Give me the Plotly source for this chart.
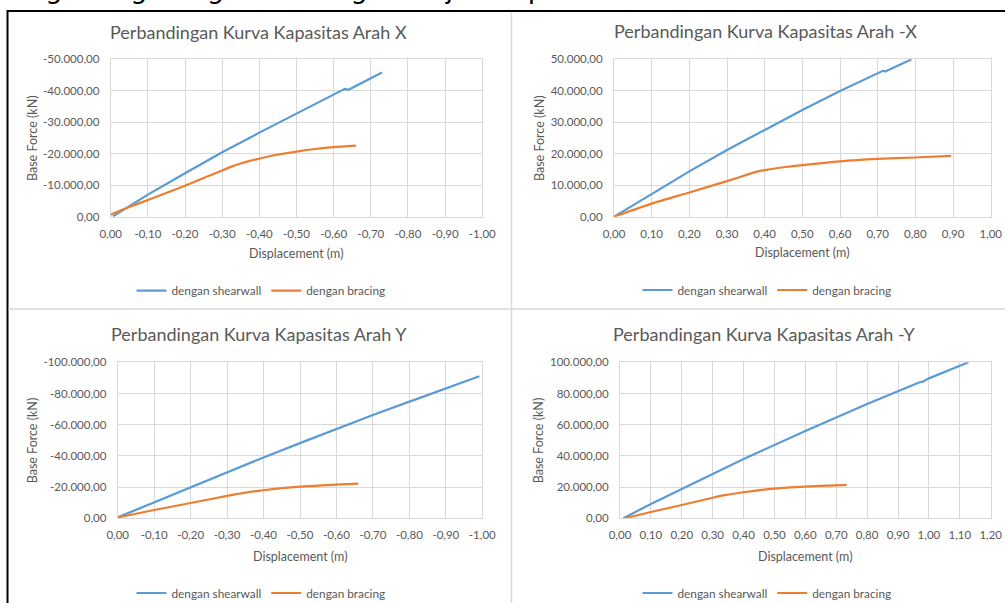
import plotly.graph_objects as go

W, H = 1005, 603

# ---- Arah X (negative displacement / negative base force) ----
x_shear_X = [-0.006, -0.10, -0.20, -0.30, -0.40, -0.50, -0.60, -0.63, -0.64, -0.73]
y_shear_X = [-100, -7000, -13800, -20500, -26700, -32800, -38900, -40600, -40300, -45800]
x_brace_X = [0.0, -0.05, -0.10, -0.20, -0.30, -0.325, -0.35, -0.375, -0.40, -0.45, -0.50, -0.55, -0.60, -0.66]
y_brace_X = [-700, -3100, -5300, -9850, -14700, -15900, -16900, -17750, -18450, -19750, -20700, -21500, -22100, -22550]

# ---- Arah -X ----
x_shear_nX = [0.0, 0.10, 0.20, 0.30, 0.40, 0.50, 0.60, 0.70, 0.715, 0.72, 0.79]
y_shear_nX = [0, 7100, 14400, 21200, 27500, 33900, 39900, 45600, 46400, 46100, 50000]
x_brace_nX = [0.0, 0.10, 0.20, 0.30, 0.36, 0.38, 0.40, 0.45, 0.50, 0.60, 0.70, 0.80, 0.895]
y_brace_nX = [0, 4150, 7700, 11300, 13600, 14300, 14800, 15700, 16400, 17600, 18350, 18800, 19300]

# ---- Arah Y ----
x_shear_Y = [0.0, -0.10, -0.20, -0.30, -0.40, -0.50, -0.60, -0.70, -0.80, -0.81, -0.992]
y_shear_Y = [-600, -10300, -19900, -29600, -39000, -48200, -57300, -66200, -74800, -75600, -91000]
x_brace_Y = [0.0, -0.10, -0.20, -0.30, -0.35, -0.40, -0.45, -0.50, -0.55, -0.60, -0.66]
y_brace_Y = [-500, -5300, -9800, -14400, -16500, -18000, -19300, -20300, -21000, -21600, -22200]

# ---- Arah -Y ----
x_shear_nY = [0.011, 0.10, 0.20, 0.40, 0.60, 0.80, 0.97, 0.98, 1.00, 1.128]
y_shear_nY = [0, 9200, 18800, 38000, 56000, 73300, 87200, 87600, 89700, 100000]
x_brace_nY = [0.016, 0.10, 0.20, 0.30, 0.33, 0.40, 0.50, 0.60, 0.70, 0.734]
y_brace_nY = [0, 4060, 8500, 13200, 14500, 16700, 19000, 20300, 21150, 21400]

# ---- tick values and labels ----
xt_neg1 = [0, -0.1, -0.2, -0.3, -0.4, -0.5, -0.6, -0.7, -0.8, -0.9, -1.0]
xt_neg1_lbl = ["0,00", "-0,10", "-0,20", "-0,30", "-0,40", "-0,50", "-0,60", "-0,70", "-0,80", "-0,90", "-1,00"]
xt_pos1 = [0, 0.1, 0.2, 0.3, 0.4, 0.5, 0.6, 0.7, 0.8, 0.9, 1.0]
xt_pos1_lbl = ["0,00", "0,10", "0,20", "0,30", "0,40", "0,50", "0,60", "0,70", "0,80", "0,90", "1,00"]
xt_pos12 = [0, 0.1, 0.2, 0.3, 0.4, 0.5, 0.6, 0.7, 0.8, 0.9, 1.0, 1.1, 1.2]
xt_pos12_lbl = ["0,00", "0,10", "0,20", "0,30", "0,40", "0,50", "0,60", "0,70", "0,80", "0,90", "1,00", "1,10", "1,20"]
yt_neg50 = [0, -10000, -20000, -30000, -40000, -50000]
yt_neg50_lbl = ["0,00", "-10.000,00", "-20.000,00", "-30.000,00", "-40.000,00", "-50.000,00"]
yt_pos50 = [0, 10000, 20000, 30000, 40000, 50000]
yt_pos50_lbl = ["0,00", "10.000,00", "20.000,00", "30.000,00", "40.000,00", "50.000,00"]
yt_neg100 = [0, -20000, -40000, -60000, -80000, -100000]
yt_neg100_lbl = ["0,00", "-20.000,00", "-40.000,00", "-60.000,00", "-80.000,00", "-100.000,00"]
yt_pos100 = [0, 20000, 40000, 60000, 80000, 100000]
yt_pos100_lbl = ["0,00", "20.000,00", "40.000,00", "60.000,00", "80.000,00", "100.000,00"]

titles = ["Perbandingan Kurva Kapasitas Arah X", "Perbandingan Kurva Kapasitas Arah -X",
          "Perbandingan Kurva Kapasitas Arah Y", "Perbandingan Kurva Kapasitas Arah -Y"]
series_names = ["dengan shearwall", "dengan bracing"]
caption = "tai gedung dengan bracing ditunjukan pada Gambar 12."

BLUE = "#5B9BD5"
ORANGE = "#ED7D31"
GRID = "#D9D9D9"
TXT = "#595959"
FONT = "Lato"


def px(x):
    return x / W


def py(y):
    return 1 - y / H


# plot areas in pixels: (left, right, top, bottom)
boxes = [
    (110.7, 482.3, 59.3, 216.7),
    (614.0, 990.7, 59.3, 216.7),
    (117.7, 482.3, 362.3, 518.3),
    (620.0, 990.7, 362.3, 518.3),
]
panels = [
    (x_shear_X, y_shear_X, x_brace_X, y_brace_X, [0, -1.0], [0, -50000], xt_neg1, xt_neg1_lbl, yt_neg50, yt_neg50_lbl),
    (x_shear_nX, y_shear_nX, x_brace_nX, y_brace_nX, [0, 1.0], [0, 50000], xt_pos1, xt_pos1_lbl, yt_pos50, yt_pos50_lbl),
    (x_shear_Y, y_shear_Y, x_brace_Y, y_brace_Y, [0, -1.0], [0, -100000], xt_neg1, xt_neg1_lbl, yt_neg100, yt_neg100_lbl),
    (x_shear_nY, y_shear_nY, x_brace_nY, y_brace_nY, [0, 1.2], [0, 100000], xt_pos12, xt_pos12_lbl, yt_pos100, yt_pos100_lbl),
]
# title centre, y-axis-title centre x, x-axis-title centre y, legend centre
title_pos = [(258, 31.5), (765.5, 31), (259, 334), (764, 333.5)]
ytitle_x = [32, 539, 32, 538]
xtitle_y = [253, 252, 556, 556]
legend_pos = [(261, 290.7), (767, 290), (261, 593), (767, 593)]

fig = go.Figure()
annotations = []
layout_axes = {}

for i, (xs, ys, xb, yb, xr, yr, xtv, xtl, ytv, ytl) in enumerate(panels):
    n = "" if i == 0 else str(i + 1)
    leg = "legend" + n
    fig.add_trace(go.Scatter(x=xs, y=ys, mode="lines", name=series_names[0],
                             line=dict(color=BLUE, width=2.2), xaxis="x" + n, yaxis="y" + n,
                             legend=leg))
    fig.add_trace(go.Scatter(x=xb, y=yb, mode="lines", name=series_names[1],
                             line=dict(color=ORANGE, width=2.2, shape="spline", smoothing=0.6),
                             xaxis="x" + n, yaxis="y" + n, legend=leg))
    l, r, t, b = boxes[i]
    layout_axes["xaxis" + n] = dict(
        domain=[px(l), px(r)], range=xr, anchor="y" + n, automargin=False,
        tickvals=xtv, ticktext=xtl, showgrid=True, gridcolor=GRID, gridwidth=1,
        showline=True, linecolor=GRID, mirror=True, zeroline=False,
        ticks="", ticklabelstandoff=6,
        tickfont=dict(family=FONT, size=11.5, color=TXT), fixedrange=True,
    )
    layout_axes["yaxis" + n] = dict(
        domain=[py(b), py(t)], range=yr, anchor="x" + n, automargin=False,
        tickvals=ytv, ticktext=ytl, showgrid=True, gridcolor=GRID, gridwidth=1,
        showline=True, linecolor=GRID, mirror=True, zeroline=False,
        ticks="", ticklabelstandoff=8,
        tickfont=dict(family=FONT, size=11.5, color=TXT), fixedrange=True,
    )
    # container-referenced legends so they never push the margins
    layout_axes[leg] = dict(
        orientation="h", xref="container", yref="container",
        x=px(legend_pos[i][0]), y=py(legend_pos[i][1]),
        xanchor="center", yanchor="middle", bgcolor="rgba(0,0,0,0)",
        font=dict(family=FONT, size=11.8, color=TXT), itemwidth=30,
        tracegroupgap=0,
    )
    tx, ty = title_pos[i]
    annotations.append(dict(text=titles[i], x=px(tx), y=py(ty), xref="paper", yref="paper",
                            xanchor="center", yanchor="middle", showarrow=False,
                            font=dict(family=FONT, size=18, color=TXT)))
    annotations.append(dict(text="Base Force (kN)", x=px(ytitle_x[i]), y=py((t + b) / 2),
                            xref="paper", yref="paper", xanchor="center", yanchor="middle",
                            textangle=-90, showarrow=False,
                            font=dict(family=FONT, size=12.5, color=TXT)))
    annotations.append(dict(text="Displacement (m)", x=px((l + r) / 2), y=py(xtitle_y[i]),
                            xref="paper", yref="paper", xanchor="center", yanchor="middle",
                            showarrow=False, font=dict(family=FONT, size=12.5, color=TXT)))

# caption line running off the top edge of the page
annotations.append(dict(text=caption, x=0, y=py(-12), xref="paper", yref="paper",
                        xanchor="left", yanchor="middle", showarrow=False,
                        font=dict(family="DejaVu Sans", size=27, color="#000000")))

shapes = [
    # outer frame
    dict(type="line", xref="paper", yref="paper", x0=px(7), x1=1, y0=py(11), y1=py(11),
         line=dict(color="#000000", width=2)),
    dict(type="line", xref="paper", yref="paper", x0=px(7.5), x1=px(7.5), y0=py(10), y1=0,
         line=dict(color="#000000", width=2)),
    # panel dividers
    dict(type="line", xref="paper", yref="paper", x0=px(511.5), x1=px(511.5), y0=py(12), y1=0,
         line=dict(color=GRID, width=1.5)),
    dict(type="line", xref="paper", yref="paper", x0=px(8.5), x1=1, y0=py(309), y1=py(309),
         line=dict(color=GRID, width=1.5)),
]

fig.update_layout(
    width=W, height=H, margin=dict(l=0, r=0, t=0, b=0, autoexpand=False),
    paper_bgcolor="white", plot_bgcolor="white",
    annotations=annotations, shapes=shapes, showlegend=True,
    **layout_axes,
)

fig.write_html("out.html", config={"displayModeBar": False})
